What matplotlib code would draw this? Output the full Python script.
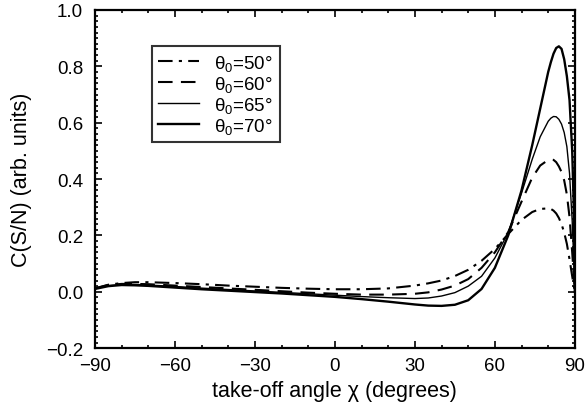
import matplotlib
matplotlib.use("Agg")
import matplotlib.pyplot as plt
from matplotlib.ticker import MultipleLocator

plt.rcParams['font.family'] = ['Liberation Sans', 'DejaVu Sans']
plt.rcParams['mathtext.fontset'] = 'custom'
plt.rcParams['mathtext.rm'] = 'Liberation Sans'
plt.rcParams['mathtext.it'] = 'Liberation Sans:italic'

chi = [-90, -85, -80, -75, -70, -60, -50, -40, -30, -20, -10, 0, 10, 20, 30, 35, 40, 45,
       50, 55, 60, 65, 70, 74, 77, 80, 81, 82, 83, 84, 85, 86, 87, 88, 89, 89.5, 90]

c50 = [0.012, 0.025, 0.031, 0.034, 0.034, 0.031, 0.027, 0.022, 0.018, 0.014, 0.011, 0.009,
       0.009, 0.012, 0.022, 0.030, 0.040, 0.056, 0.078, 0.110, 0.152, 0.205, 0.255, 0.283,
       0.294, 0.296, 0.294, 0.288, 0.278, 0.262, 0.240, 0.210, 0.170, 0.115, 0.055, 0.025, 0.0]
c60 = [0.012, 0.024, 0.028, 0.028, 0.027, 0.022, 0.017, 0.012, 0.007, 0.002, -0.003, -0.007,
       -0.010, -0.010, -0.007, -0.002, 0.008, 0.022, 0.045, 0.085, 0.140, 0.212, 0.320, 0.405,
       0.448, 0.468, 0.470, 0.468, 0.460, 0.445, 0.425, 0.395, 0.345, 0.265, 0.140, 0.070, 0.0]
c65 = [0.012, 0.022, 0.026, 0.026, 0.024, 0.019, 0.013, 0.008, 0.003, -0.002, -0.007, -0.012,
       -0.017, -0.021, -0.024, -0.022, -0.015, -0.003, 0.020, 0.055, 0.120, 0.210, 0.350,
       0.470, 0.550, 0.605, 0.616, 0.622, 0.621, 0.612, 0.595, 0.565, 0.515, 0.420, 0.250,
       0.130, 0.0]
c70 = [0.010, 0.020, 0.024, 0.023, 0.021, 0.015, 0.009, 0.004, -0.001, -0.006, -0.012, -0.018,
       -0.026, -0.035, -0.045, -0.049, -0.050, -0.046, -0.030, 0.010, 0.085, 0.200, 0.360,
       0.520, 0.650, 0.780, 0.815, 0.845, 0.865, 0.871, 0.862, 0.825, 0.765, 0.680, 0.500,
       0.330, 0.0]

labels = ['\u03b8$_0$=50°', '\u03b8$_0$=60°', '\u03b8$_0$=65°', '\u03b8$_0$=70°']
xtick_vals = [-90, -60, -30, 0, 30, 60, 90]
xtick_labels = ['\u221290', '\u221260', '\u221230', '0', '30', '60', '90']
ytick_vals = [-0.2, 0.0, 0.2, 0.4, 0.6, 0.8, 1.0]
ytick_labels = ['\u22120.2', '0.0', '0.2', '0.4', '0.6', '0.8', '1.0']

fig = plt.figure(figsize=(5.86, 4.06), dpi=100)
ax = fig.add_axes([0.162, 0.140, 0.819, 0.833])

ax.plot(chi, c50, color='black', lw=1.5, dashes=(7, 3, 1.5, 3), label=labels[0])
ax.plot(chi, c60, color='black', lw=1.5, dashes=(7, 4), label=labels[1])
ax.plot(chi, c65, color='black', lw=1.0, label=labels[2])
ax.plot(chi, c70, color='black', lw=1.7, label=labels[3])

ax.set_xlim(-90, 90)
ax.set_ylim(-0.2, 1.0)
ax.xaxis.set_minor_locator(MultipleLocator(10))
ax.yaxis.set_minor_locator(MultipleLocator(0.02))
ax.set_xticks(xtick_vals)
ax.set_xticklabels(xtick_labels)
ax.set_yticks(ytick_vals)
ax.set_yticklabels(ytick_labels)
ax.tick_params(which='both', direction='in', top=True, right=True, labelsize=13.5, width=1.2)
ax.tick_params(axis='x', which='major', pad=6.5)
ax.tick_params(axis='y', which='major', pad=8.5)
ax.tick_params(which='major', length=5)
ax.tick_params(which='minor', length=2.5)
for s in ax.spines.values():
    s.set_linewidth(1.6)

ax.set_xlabel('take-off angle \u03c7 (degrees)', fontsize=15.5, labelpad=4)
ax.set_ylabel('C(S/N) (arb. units)', fontsize=15.5, labelpad=10)

leg = ax.legend(loc='upper left', bbox_to_anchor=(0.118, 0.892), fontsize=13.5,
                frameon=True, fancybox=False, edgecolor='black', handlelength=2.2,
                borderpad=0.35, labelspacing=0.05, handletextpad=0.8, borderaxespad=0)
leg.get_frame().set_linewidth(1.5)

fig.savefig('out.png', dpi=100)
